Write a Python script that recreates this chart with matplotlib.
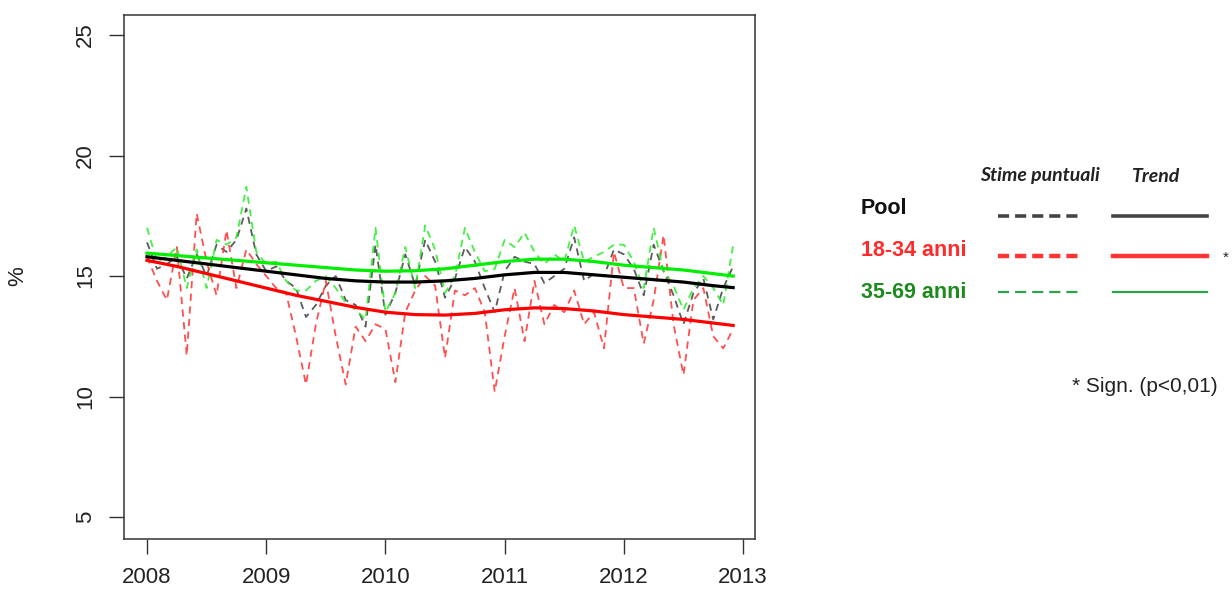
import numpy as np
import matplotlib
matplotlib.use("Agg")
import matplotlib.pyplot as plt

plt.rcParams['font.family'] = ['Liberation Sans', 'DejaVu Sans']

# monthly point estimates, Jan 2008 - Dec 2012
months = 2008 + np.arange(60) / 12.0

pool = [16.4, 15.3, 15.5, 15.8, 14.9, 15.9, 15.0, 16.3, 16.0, 16.5, 17.8, 15.9,
        15.2, 15.4, 14.8, 14.5, 13.3, 13.8, 14.6, 15.0, 14.0, 13.8, 12.9, 16.3,
        13.4, 14.3, 15.9, 14.6, 16.5, 15.6, 14.1, 14.9, 16.2, 15.6, 14.5, 13.5,
        15.2, 15.8, 15.6, 15.5, 14.7, 15.0, 15.3, 16.6, 14.8, 15.1, 15.0, 16.1,
        15.9, 15.3, 14.2, 16.3, 15.2, 14.2, 13.0, 14.3, 14.9, 13.2, 14.5, 15.4]

age_18_34 = [15.8, 14.8, 14.0, 16.2, 11.7, 17.6, 15.6, 14.2, 16.9, 14.5, 16.1, 15.5,
             15.0, 14.5, 14.3, 12.5, 10.5, 13.0, 14.8, 12.5, 10.5, 12.9, 12.3, 13.0,
             12.8, 10.6, 13.5, 14.4, 15.0, 14.6, 11.6, 14.4, 14.2, 14.5, 13.5, 10.2,
             12.5, 14.5, 12.3, 14.8, 13.0, 13.8, 13.5, 14.4, 13.0, 13.5, 12.0, 16.0,
             14.5, 14.5, 12.2, 14.0, 16.7, 13.0, 10.9, 14.0, 14.5, 12.5, 12.0, 12.8]

age_35_69 = [17.0, 15.6, 15.8, 16.2, 14.5, 16.1, 14.5, 16.5, 16.3, 16.6, 18.7, 16.0,
             15.5, 15.6, 14.8, 14.4, 14.4, 14.8, 15.0, 14.5, 13.9, 13.6, 13.2, 17.0,
             13.5, 14.3, 16.2, 14.5, 17.1, 16.1, 14.3, 15.0, 17.0, 16.0, 15.2, 15.3,
             16.5, 16.2, 16.8, 16.0, 15.5, 15.9, 15.6, 17.1, 15.6, 15.8, 16.0, 16.3,
             16.3, 15.6, 14.5, 17.0, 15.2, 14.6, 13.6, 14.5, 15.0, 14.5, 13.8, 16.3]

# smoothed trends, sampled every quarter
trend_months = 2008 + np.array([0, 3, 6, 9, 12, 15, 18, 21, 24, 27, 30, 33, 36, 39,
                                42, 45, 48, 51, 54, 57, 59]) / 12.0
pool_trend = [15.80, 15.65, 15.50, 15.35, 15.20, 15.05, 14.90, 14.80, 14.75, 14.75, 14.80,
              14.90, 15.05, 15.15, 15.15, 15.05, 14.95, 14.85, 14.75, 14.60, 14.52]
trend_18_34 = [15.65, 15.40, 15.10, 14.80, 14.50, 14.20, 13.95, 13.70, 13.50, 13.40, 13.38,
               13.45, 13.60, 13.68, 13.65, 13.55, 13.40, 13.30, 13.20, 13.05, 12.95]
trend_35_69 = [15.95, 15.85, 15.75, 15.65, 15.55, 15.45, 15.35, 15.25, 15.20, 15.22, 15.30,
               15.45, 15.60, 15.70, 15.70, 15.60, 15.45, 15.35, 15.25, 15.10, 15.00]

year_ticks = [2008, 2009, 2010, 2011, 2012, 2013]
pct_ticks = [5, 10, 15, 20, 25]

fig = plt.figure(figsize=(12.32, 5.94), dpi=100)
ax = fig.add_axes([124 / 1232, 55 / 594, 631 / 1232, 524 / 594])

dash = (4, 3)
ax.plot(months, pool, color='#333333', lw=1.3, dashes=dash, alpha=0.8)
ax.plot(months, age_18_34, color='#ff3030', lw=1.3, dashes=dash, alpha=0.85)
ax.plot(months, age_35_69, color='#22ee22', lw=1.3, dashes=dash, alpha=0.85)

ax.plot(trend_months, pool_trend, color='black', lw=2.3)
ax.plot(trend_months, trend_18_34, color='#ff0000', lw=2.3)
ax.plot(trend_months, trend_35_69, color='#00ee00', lw=2.3)

ax.set_xlim(2007.807, 2013.10)
ax.set_ylim(4.09, 25.83)
ax.set_xticks(year_ticks)
ax.set_yticks(pct_ticks)
ax.set_yticklabels([str(v) for v in pct_ticks], rotation=90, va='center')
ax.tick_params(axis='both', direction='out', length=11, width=1, color='#333333',
               labelsize=16, labelcolor='#222222', pad=9)
for sp in ax.spines.values():
    sp.set_color('#333333')
    sp.set_linewidth(1.1)

fig.text(18 / 1232, 1 - 276 / 594, '%', fontsize=16, color='#222222',
         rotation=90, ha='center', va='center')

# hand-built legend block on the right
lax = fig.add_axes([0, 0, 1, 1])
lax.set_xlim(0, 1232)
lax.set_ylim(594, 0)
lax.axis('off')

lax.text(1040, 176, 'Stime puntuali', fontsize=14, style='italic', fontweight='bold',
         family=['Lato', 'DejaVu Sans'], color='#222222', ha='center', va='center')
lax.text(1156, 176, 'Trend', fontsize=14, style='italic', fontweight='bold',
         family=['Lato', 'DejaVu Sans'], color='#222222', ha='center', va='center')

rows = [
    ('Pool', '#111111', '#444444', 2.6, 209, 216),
    ('18-34 anni', '#ff2a2a', '#ff3535', 3.2, 250, 256),
    ('35-69 anni', '#1d8a1d', '#2fa34a', 1.6, 292, 292),
]
for label, tcol, lcol, lw, ty, ly in rows:
    lax.text(861, ty, label, fontsize=15.5, fontweight='bold', color=tcol,
             ha='left', va='center')
    lax.plot([998, 1082], [ly, ly], color=lcol, lw=lw, dashes=(8.0 / lw, 4.3 / lw))
    lax.plot([1113, 1207], [ly, ly], color=lcol, lw=lw)

lax.text(1226, 258, '*', fontsize=11, color='#222222', ha='center', va='center')
lax.text(1218, 387, '* Sign. (p<0,01)', fontsize=15, color='#222222',
         ha='right', va='center')

fig.savefig('out.png', dpi=100)
